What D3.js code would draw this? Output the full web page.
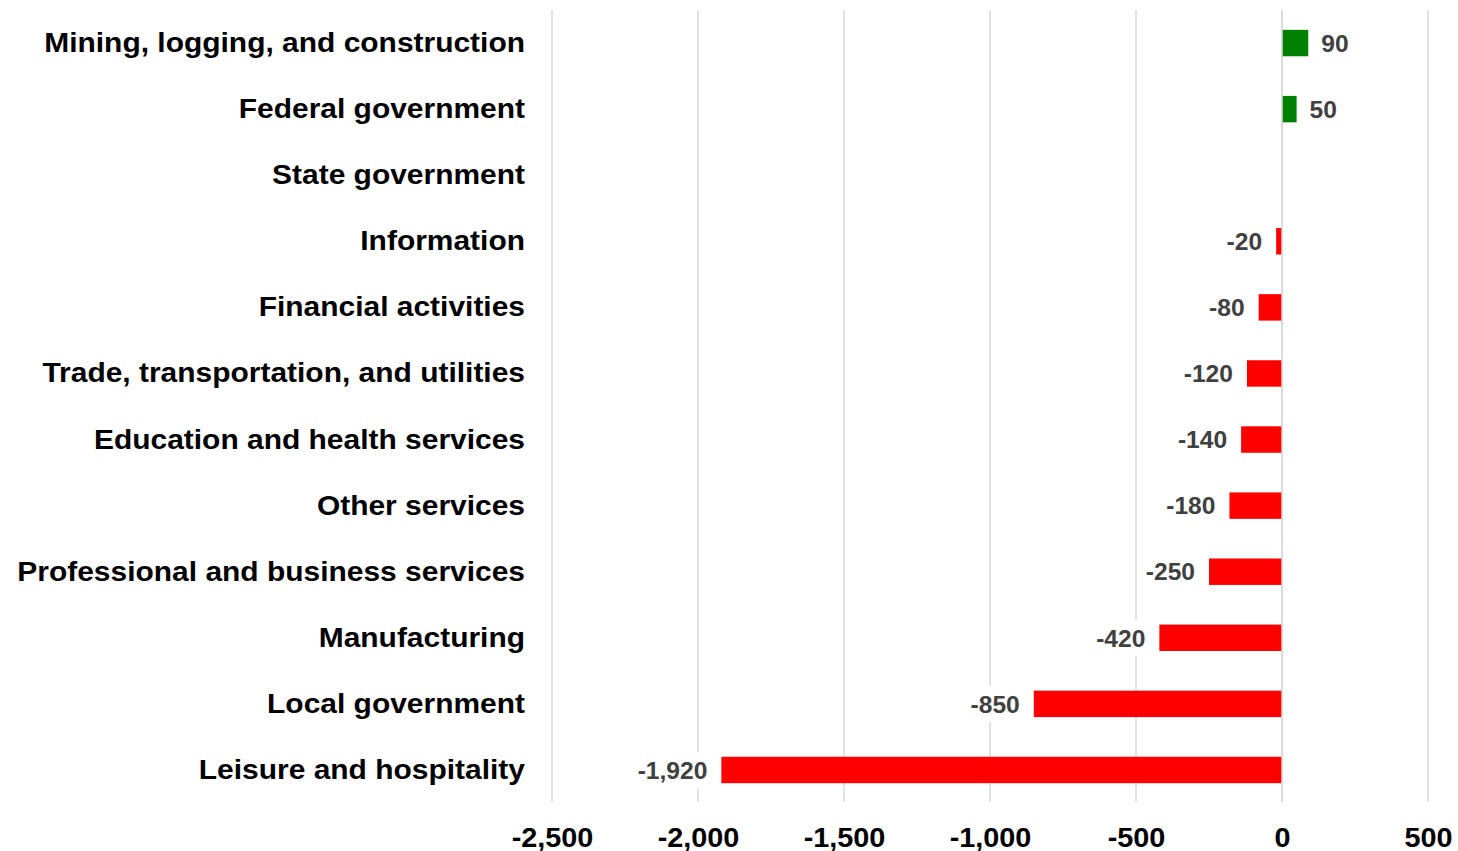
<!DOCTYPE html>
<html><head><meta charset="utf-8">
<script src="https://cdn.jsdelivr.net/npm/d3@7"></script>
<style>body{margin:0;background:#fff;overflow:hidden}svg{display:block;font-family:"Liberation Sans",Arial,sans-serif}</style>
</head><body>
<svg id="c" width="1458" height="851"></svg>
<script>
const categories = ["Mining, logging, and construction","Federal government","State government","Information","Financial activities","Trade, transportation, and utilities","Education and health services","Other services","Professional and business services","Manufacturing","Local government","Leisure and hospitality"];
const values = [90, 50, 0, -20, -80, -120, -140, -180, -250, -420, -850, -1920];
const tickValues = [-2500, -2000, -1500, -1000, -500, 0, 500];

const svg = d3.select("#c");
const x = d3.scaleLinear().domain([-2500, 500]).range([552, 1428]);
const y = d3.scaleBand().domain(categories).range([10, 803]).paddingInner(0.6).paddingOuter(0.3);
const locale = d3.formatLocale({decimal: ".", thousands: ",", grouping: [3], currency: ["", ""], minus: "-"});
const fmt = locale.format(",");

// gridlines
svg.append("g").selectAll("line").data(tickValues).join("line")
  .attr("x1", d => x(d)).attr("x2", d => x(d))
  .attr("y1", 10).attr("y2", 802)
  .attr("stroke", "#d9d9d9").attr("stroke-width", 1.5);

// x axis tick labels
const xAxis = d3.axisBottom(x).tickValues(tickValues).tickFormat(fmt).tickSize(0).tickPadding(0);
const gx = svg.append("g").attr("transform", "translate(0,847)").call(xAxis);
gx.select(".domain").remove();
gx.selectAll("text").attr("dy", 0).attr("y", 0)
  .attr("transform", "scale(1.03,1)")
  .attr("font-family", "'Liberation Sans', Arial, sans-serif")
  .attr("font-size", 28).attr("font-weight", "bold").attr("fill", "#000");

// category labels
const yAxis = d3.axisLeft(y).tickSize(0).tickPadding(0);
const gy = svg.append("g").attr("transform", "translate(525,0)").call(yAxis);
gy.select(".domain").remove();
gy.selectAll("text").attr("dy", "0.32em").attr("x", 0)
  .attr("transform", "scale(1.07,1)")
  .attr("font-family", "'Liberation Sans', Arial, sans-serif")
  .attr("font-size", 28).attr("font-weight", "bold").attr("fill", "#000");

// bars
const data = categories.map((c, i) => ({c, v: values[i]}));
svg.append("g").selectAll("rect").data(data.filter(d => d.v !== 0)).join("rect")
  .attr("x", d => x(Math.min(0, d.v)))
  .attr("width", d => Math.abs(x(d.v) - x(0)))
  .attr("y", d => y(d.c))
  .attr("height", y.bandwidth())
  .attr("fill", d => d.v > 0 ? "#008000" : "#ff0000");

// zero line on top
svg.append("line").attr("x1", x(0)).attr("x2", x(0)).attr("y1", 10).attr("y2", 802)
  .attr("stroke", "#d9d9d9").attr("stroke-width", 1.5);

// value labels
const sx = 1.07;
const lg = svg.append("g");
data.filter(d => d.v !== 0).forEach(d => {
  const pos = d.v > 0;
  const tx = pos ? x(d.v) + 13 : x(d.v) - 14;
  const cy = y(d.c) + y.bandwidth() / 2;
  const g = lg.append("g").attr("transform", `translate(${tx},${cy})`);
  const r = g.append("rect").attr("fill", "#fff");
  const t = g.append("text").attr("x", 0).attr("y", 0).attr("dy", "0.38em")
    .attr("transform", `scale(${sx},1)`)
    .attr("text-anchor", pos ? "start" : "end")
    .attr("font-size", 23).attr("font-weight", "bold").attr("fill", "#404040")
    .text(fmt(d.v));
  const b = t.node().getBBox();
  r.attr("x", b.x * sx - 4).attr("y", -18).attr("width", b.width * sx + 8).attr("height", 36);
});
</script>
</body></html>
